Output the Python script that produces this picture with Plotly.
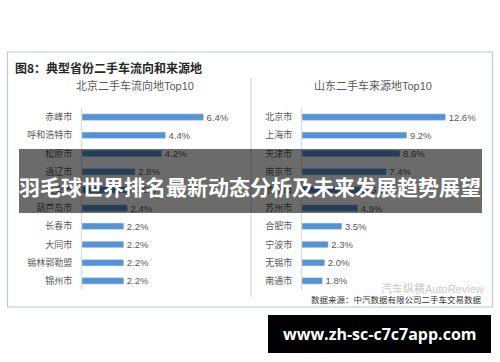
import plotly.graph_objects as go

W, H = 500, 362

left_title = "北京二手车流向地Top10"
left_cities = ["赤峰市", "呼和浩特市", "松原市", "通辽市", "包头市",
               "葫芦岛市", "长春市", "大同市", "锡林郭勒盟", "锦州市"]
left_values = [6.4, 4.4, 4.2, 2.8, 2.6, 2.4, 2.2, 2.2, 2.2, 2.2]

right_title = "山东二手车来源地Top10"
right_cities = ["北京市", "上海市", "天津市", "南京市", "杭州市",
                "苏州市", "合肥市", "宁波市", "无锡市", "南通市"]
right_values = [12.6, 9.2, 8.6, 7.4, 5.8, 4.9, 3.5, 2.3, 2.0, 1.8]

fig_title = "图8：典型省份二手车流向和来源地"
source_text = "数据来源：中汽数据有限公司二手车交易数据"
watermark = "汽车纵横AutoReview"
banner_text = "羽毛球世界排名最新动态分析及未来发展趋势展望"
url_text = "www.zh-sc-c7c7app.com"

FONT = "Liberation Sans, Noto Sans CJK SC, sans-serif"
CJK = "Noto Sans CJK SC, sans-serif"
BAR = "#5593d4"
GRAY = "#595959"


def px(x):
    return x / W


def py(y):
    return 1 - y / H


fig = go.Figure()
fig.add_trace(go.Bar(
    x=left_values, y=left_cities, orientation="h",
    marker=dict(color=BAR), width=0.36,
    text=[f"{v:.1f}%" for v in left_values], textposition="outside",
    constraintext="none",
    textfont=dict(size=9.5, color=GRAY, family=FONT), cliponaxis=False,
    xaxis="x", yaxis="y", hoverinfo="skip"))
fig.add_trace(go.Bar(
    x=right_values, y=right_cities, orientation="h",
    marker=dict(color=BAR), width=0.36,
    text=[f"{v:.1f}%" for v in right_values], textposition="outside",
    constraintext="none",
    textfont=dict(size=9.5, color=GRAY, family=FONT), cliponaxis=False,
    xaxis="x2", yaxis="y2", hoverinfo="skip"))

ydom = [py(290), py(108)]
common_y = dict(type="category", autorange="reversed", showgrid=False,
                showline=True, linecolor="#d9d9d9", linewidth=1, ticks="",
                tickfont=dict(size=9, color=GRAY, family=CJK),
                ticklabelstandoff=7, domain=ydom, fixedrange=True)
fig.update_layout(
    width=W, height=H, margin=dict(l=0, r=0, t=0, b=0),
    paper_bgcolor="white", plot_bgcolor="white", showlegend=False,
    font=dict(family=FONT),
    xaxis=dict(domain=[px(82), px(232)], range=[0, 150 / 19.0],
               visible=False, anchor="y", fixedrange=True),
    yaxis=dict(anchor="x", **common_y),
    xaxis2=dict(domain=[px(302), px(482)], range=[0, 180 / 11.4],
                visible=False, anchor="y2", fixedrange=True),
    yaxis2=dict(anchor="x2", **common_y),
    bargap=0.6,
)

shapes = [
    dict(type="rect", xref="paper", yref="paper", x0=px(7.5), x1=px(492.5),
         y0=py(307), y1=py(52), line=dict(color="#b9c9d6", width=1.2),
         fillcolor="rgba(0,0,0,0)", layer="below"),
    dict(type="line", xref="paper", yref="paper", x0=px(251), x1=px(251),
         y0=py(297), y1=py(78), line=dict(color="#c5d0da", width=1)),
    dict(type="rect", xref="paper", yref="paper", x0=px(19), x1=px(482),
         y0=py(213), y1=py(149), line=dict(width=0),
         fillcolor="rgba(0,0,0,0.58)", layer="above"),
    dict(type="rect", xref="paper", yref="paper", x0=px(268), x1=px(491),
         y0=py(353), y1=py(315), line=dict(width=0),
         fillcolor="black", layer="above"),
]
fig.update_layout(shapes=shapes)

ann = [
    dict(text=f"<b>{fig_title}</b>", x=px(13), y=py(68), xanchor="left",
         yanchor="middle", font=dict(size=12, color="#262626", family=CJK)),
    dict(text=left_title, x=px(135), y=py(86), xanchor="center",
         yanchor="middle", font=dict(size=11, color=GRAY, family=FONT)),
    dict(text=right_title, x=px(373), y=py(86), xanchor="center",
         yanchor="middle", font=dict(size=11, color=GRAY, family=FONT)),
    dict(text=watermark, x=px(486), y=py(288), xanchor="right",
         yanchor="middle", font=dict(size=11, color="#c8c8c8", family=FONT)),
    dict(text=source_text, x=px(484), y=py(299), xanchor="right",
         yanchor="middle", font=dict(size=8.5, color="#333333", family=CJK)),
    dict(text=f"<b>{banner_text}</b>", x=px(250), y=py(186), xanchor="center",
         yanchor="middle", font=dict(size=21, color="white", family=CJK)),
    dict(text=f"<b>{url_text}</b>", x=px(380), y=py(334), xanchor="center",
         yanchor="middle", font=dict(size=16, color="white",
                                     family="Open Sans, DejaVu Sans, sans-serif")),
]
for a in ann:
    a.update(xref="paper", yref="paper", showarrow=False)
fig.update_layout(annotations=ann)

fig.write_html("out.html",
               config={"displayModeBar": False, "staticPlot": True},
               post_script="document.body.style.margin='0';"
                           "document.body.style.overflow='hidden';")
